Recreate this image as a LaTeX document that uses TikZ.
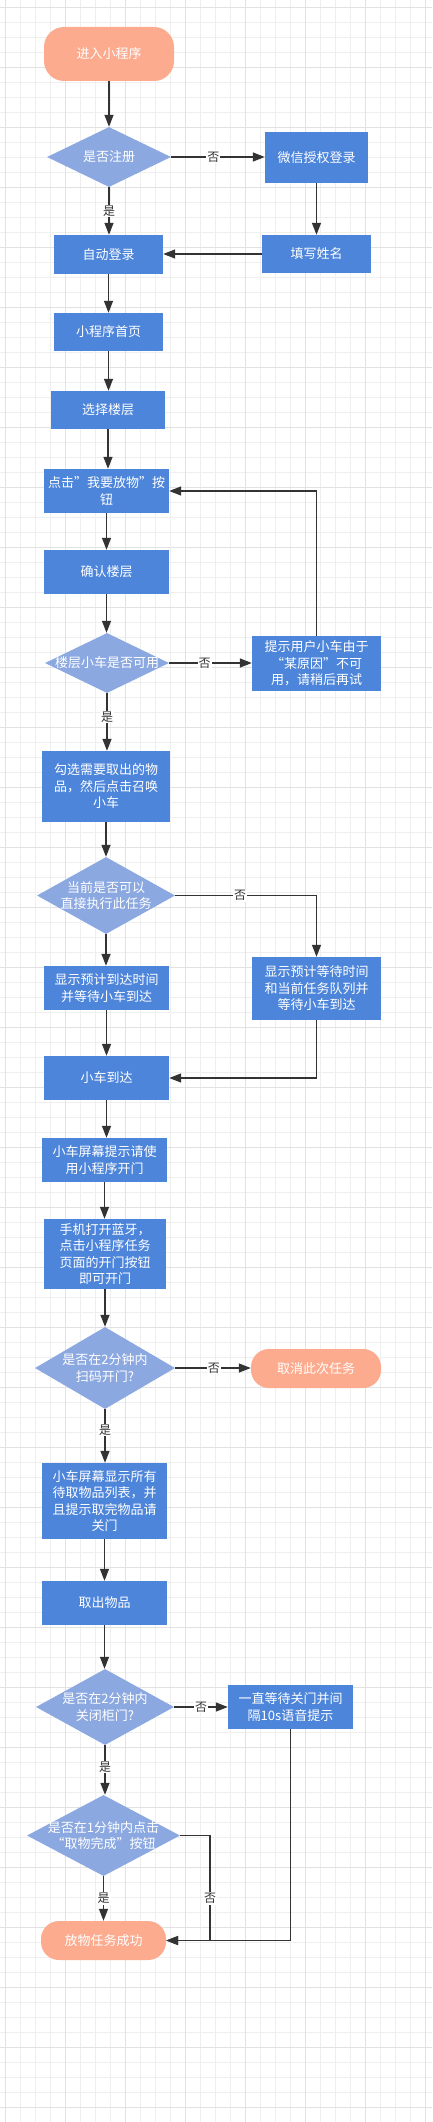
\documentclass[tikz,border=0pt]{standalone}
\usepackage{fontspec}
\setmainfont{Noto Sans CJK SC}
\usetikzlibrary{arrows.meta,shapes.geometric}
\definecolor{boxblue}{HTML}{4D85DA}
\definecolor{diablue}{HTML}{8BA8E1}
\definecolor{salmon}{HTML}{FDAB8E}
\definecolor{linec}{HTML}{333333}
\definecolor{gridminor}{HTML}{EFEFEF}
\definecolor{gridmajor}{HTML}{E2E2E2}
\begin{document}
\begin{tikzpicture}[x=1pt,y=-1pt,
  every node/.style={font=\fontsize{13pt}{16.5pt}\selectfont},
  proc/.style={rectangle, fill=boxblue, text=white, inner sep=0pt, align=center},
  term/.style={rectangle, rounded corners=18pt, fill=salmon, text=white, inner sep=0pt, align=center},
  dec/.style={diamond, fill=diablue, inner sep=0pt},
  dtxt/.style={text=white, align=center, inner sep=0pt},
  arr/.style={draw=linec, line width=1.3pt, -{Triangle[length=12pt,width=9pt]}},
  lbl/.style={fill=white, text=linec, inner sep=1pt, font=\fontsize{12pt}{14pt}\selectfont},
]
% background and grid
\fill[white] (0,0) rectangle (432,2122);
\useasboundingbox (0,0) rectangle (432,2122);
\foreach \xx in {5,20,...,425} \draw[gridminor, line width=0.6pt] (\xx,0) -- (\xx,2122);
\foreach \yy in {7,22,...,2122} \draw[gridminor, line width=0.6pt] (0,\yy) -- (432,\yy);
\foreach \xx in {5,65,...,425} \draw[gridmajor, line width=0.7pt] (\xx,0) -- (\xx,2122);
\foreach \yy in {7,67,...,2107} \draw[gridmajor, line width=0.7pt] (0,\yy) -- (432,\yy);

% nodes
\node[term, rounded corners=20pt, minimum width=130pt, minimum height=54pt] (start) at (109,54) {进入小程序};
\node[dec, minimum width=124pt, minimum height=60pt] (d1) at (109,157) {};
\node[dtxt] (d1t) at (d1) {是否注册};
\node[proc, minimum width=103pt, minimum height=51pt] (wx) at (316.5,157.5) {微信授权登录};
\node[proc, minimum width=109pt, minimum height=38pt] (name) at (316.5,254) {填写姓名};
\node[proc, minimum width=109pt, minimum height=39pt] (auto) at (108.5,254.5) {自动登录};
\node[proc, minimum width=109pt, minimum height=38pt] (home) at (108.5,332) {小程序首页};
\node[proc, minimum width=114pt, minimum height=38pt] (floor) at (108,410) {选择楼层};
\node[proc, minimum width=125pt, minimum height=44pt] (click) at (106.5,491) {点击"我要放物"按\\钮};
\node[proc, minimum width=125pt, minimum height=44pt] (confirm) at (106.5,572) {确认楼层};
\node[dec, minimum width=124pt, minimum height=60pt] (d2) at (107,663) {};
\node[dtxt] (d2t) at (d2) {楼层小车是否可用};
\node[proc, minimum width=129pt, minimum height=55pt] (tip) at (316.5,663.5) {提示用户小车由于\\“某原因”不可\\用，请稍后再试};
\node[proc, minimum width=128pt, minimum height=71pt] (select) at (106,786.5) {勾选需要取出的物\\品，然后点击召唤\\小车};
\node[dec, minimum width=138pt, minimum height=77pt] (d3) at (106,895.5) {};
\node[dtxt] (d3t) at (d3) {当前是否可以\\直接执行此任务};
\node[proc, minimum width=125pt, minimum height=44pt] (est) at (106.5,988) {显示预计到达时间\\并等待小车到达};
\node[proc, minimum width=129pt, minimum height=63pt] (wait) at (316.5,988.5) {显示预计等待时间\\和当前任务队列并\\等待小车到达};
\node[proc, minimum width=125pt, minimum height=44pt] (arrive) at (106.5,1078) {小车到达};
\node[proc, minimum width=125pt, minimum height=44pt] (screen) at (104.5,1160) {小车屏幕提示请使\\用小程序开门};
\node[proc, minimum width=122pt, minimum height=70pt] (phone) at (105,1254) {手机打开蓝牙，\\点击小程序任务\\页面的开门按钮\\即可开门};
\node[dec, minimum width=140pt, minimum height=82pt] (d4) at (105,1368) {};
\node[dtxt] (d4t) at (d4) {是否在2分钟内\\扫码开门?};
\node[term, minimum width=130pt, minimum height=39pt] (cancel) at (316,1368.5) {取消此次任务};
\node[proc, minimum width=125pt, minimum height=76pt] (list) at (104.5,1501) {小车屏幕显示所有\\待取物品列表，并\\且提示取完物品请\\关门};
\node[proc, minimum width=125pt, minimum height=44pt] (take) at (104.5,1603) {取出物品};
\node[dec, minimum width=138pt, minimum height=76pt] (d5) at (105,1707) {};
\node[dtxt] (d5t) at (d5) {是否在2分钟内\\关闭柜门?};
\node[proc, minimum width=125pt, minimum height=44pt] (waitc) at (290.5,1707) {一直等待关门并间\\隔10s语音提示};
\node[dec, minimum width=153pt, minimum height=81pt] (d6) at (103.5,1835.5) {};
\node[dtxt] (d6t) at (d6) {是否在1分钟内点击\\“取物完成”按钮};
\node[term, minimum width=125pt, minimum height=39pt] (success) at (103.5,1940.5) {放物任务成功};
\coordinate (k6) at (210,0);

% connectors
\draw[arr] (start.south) -- (start.south |- d1.north);
\draw[arr] (d1.east) -- node[lbl,pos=0.45]{否} (d1.east -| wx.west);
\draw[arr] (d1.south) -- node[lbl,pos=0.5]{是} (d1.south |- auto.north);
\draw[arr] (wx.south) -- (wx.south |- name.north);
\draw[arr] (name.west) -- (name.west -| auto.east);
\draw[arr] (auto.south) -- (auto.south |- home.north);
\draw[arr] (home.south) -- (home.south |- floor.north);
\draw[arr] (floor.south) -- (floor.south |- click.north);
\draw[arr] (click.south) -- (click.south |- confirm.north);
\draw[arr] (confirm.south) -- (confirm.south |- d2.north);
\draw[arr] (d2.east) -- node[lbl,pos=0.43]{否} (d2.east -| tip.west);
\draw[arr] (tip.north) |- (click.east);
\draw[arr] (d2.south) -- node[lbl,pos=0.41]{是} (d2.south |- select.north);
\draw[arr] (select.south) -- (select.south |- d3.north);
\draw[arr] (d3.south) -- (d3.south |- est.north);
\draw[arr] (d3.east) -| node[lbl,pos=0.23]{否} (wait.north);
\draw[arr] (est.south) -- (est.south |- arrive.north);
\draw[arr] (wait.south) |- (arrive.east);
\draw[arr] (arrive.south) -- (arrive.south |- screen.north);
\draw[arr] (screen.south) -- (screen.south |- phone.north);
\draw[arr] (phone.south) -- (phone.south |- d4.north);
\draw[arr] (d4.east) -- node[lbl,pos=0.51]{否} (d4.east -| cancel.west);
\draw[arr] (d4.south) -- node[lbl,pos=0.39]{是} (d4.south |- list.north);
\draw[arr] (list.south) -- (list.south |- take.north);
\draw[arr] (take.south) -- (take.south |- d5.north);
\draw[arr] (d5.east) -- node[lbl,pos=0.5]{否} (d5.east -| waitc.west);
\draw[arr] (d5.south) -- node[lbl,pos=0.44]{是} (d5.south |- d6.north);
\draw[arr] (d6.south) -- node[lbl,pos=0.5]{是} (d6.south |- success.north);
\draw[arr] (d6.east) -- (d6.east -| k6) -- node[lbl,pos=0.6]{否} (k6 |- success.east) -- (success.east);
\draw[arr] (waitc.south) |- (success.east);
\end{tikzpicture}
\end{document}
